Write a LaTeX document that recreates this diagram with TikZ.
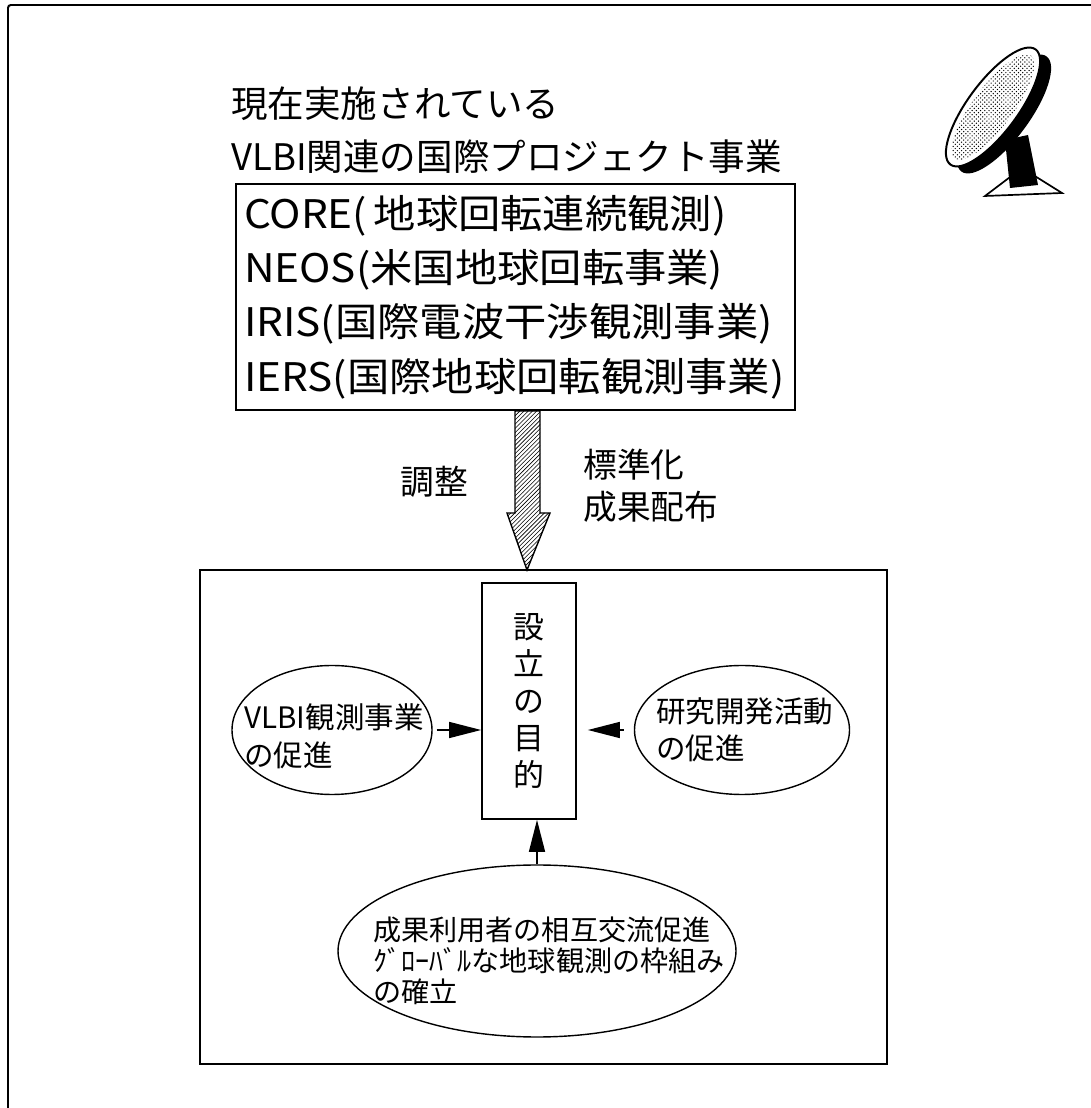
\documentclass[tikz,border=0pt]{standalone}
\usepackage{fontspec}
\setmainfont{Noto Sans CJK JP}
\newfontfamily\widefont{Noto Sans CJK JP}[FakeStretch=1.075]
\usepackage{tikz}
\usetikzlibrary{positioning,arrows.meta,shapes.geometric,calc,patterns}
\tikzset{
  title text/.style={
    anchor=west,
    align=left,
    inner sep=0pt,
    font=\fontsize{26}{38}\selectfont
  },
  project list/.style={
    draw,
    line width=1.2pt,
    align=left,
    inner xsep=0.2cm,
    text width=13.575cm,
    minimum height=5.65cm,
    font=\widefont\fontsize{28}{38.6}\selectfont
  },
  side note/.style={
    align=left,
    inner sep=0pt,
    font=\fontsize{24}{30}\selectfont
  },
  aim box/.style={
    draw,
    line width=1.2pt,
    minimum width=2.35cm,
    minimum height=5.9cm,
    align=center,
    font=\fontsize{22}{26.3}\selectfont
  },
  aim oval/.style={
    ellipse,
    draw,
    line width=1pt
  },
  oval text/.style={
    align=left,
    inner sep=0pt,
    font=\fontsize{21}{26.5}\selectfont
  },
  push arrow/.style={
    -{Triangle[length=0.8cm,width=0.4cm]},
    line width=1pt
  }
}

\begin{document}
\begin{tikzpicture}
  \useasboundingbox (0,0) rectangle (27.275,27.7);

  % Page frame (only left and top edges show)
  \draw[line width=1.4pt, rounded corners=2pt] (0.2,0) -- (0.2,27.575) -- (27.275,27.575);

  % Heading
  \node[title text] (head) at (5.775,24.45) {現在実施されている\\VLBI関連の国際プロジェクト事業};

  % Running projects
  \node[project list] (list) at (12.8875,20.275) {%
    CORE(\,地球回転連続観測)\\
    NEOS(米国地球回転事業)\\
    IRIS(国際電波干渉観測事業)\\
    IERS(国際地球回転観測事業)};

  % Purpose block
  \node[draw, line width=1.2pt, minimum width=17.175cm, minimum height=12.35cm] (goal) at (13.5875,7.275) {};
  \node[aim box] (aim) at (13.225,10.175) {設\\立\\の\\目\\的};

  % Hatched arrow from the list down to the purpose block
  \coordinate (tip) at (13.175,13.45);
  \coordinate (tail) at (list.south -| tip);
  \draw[line width=1pt, pattern=north east lines]
    ($(tail)+(-0.3,0)$) -- ($(tail)+(0.325,0)$) -- ($(tip)+(0.325,1.425)$)
    -- ($(tip)+(0.575,1.425)$) -- (tip) -- ($(tip)+(-0.5,1.425)$)
    -- ($(tip)+(-0.3,1.425)$) -- cycle;
  \node[side note] (coord) at (10.85,15.65) {調整};
  \node[side note, anchor=west] (std) at (14.575,15.55) {標準化\\成果配布};

  % Three aims feeding the purpose
  \node[aim oval, minimum width=5cm, minimum height=3.225cm] (obs) at (8.3,9.45) {};
  \node[oval text] at ($(obs)+(0.05,-0.16)$) {VLBI観測事業\\の促進};
  \node[aim oval, minimum width=5.375cm, minimum height=3.225cm] (dev) at (18.55,9.45) {};
  \node[oval text] at ($(dev)+(0.07,0)$) {研究開発活動\\の促進};
  \node[aim oval, minimum width=9.95cm, minimum height=4.3cm] (use) at (13.425,3.925) {};
  \node[oval text, font=\fontsize{20}{22}\selectfont] at ($(use)+(0.3,-0.25)$)
    {成果利用者の相互交流促進\\ｸﾞﾛｰﾊﾞﾙな地球観測の枠組み\\の確立};

  \draw[push arrow] ([xshift=0.1cm]obs.east) -- (obs.east -| aim.west);
  \draw[push arrow] ([xshift=-0.25cm]dev.west) -- ($(dev.west -| aim.east)+(0.275,0)$);
  \draw[push arrow] (use.north) -- (use.north |- aim.south);

  % Radio telescope sketch
  \fill[black, line width=1.2pt] (25.125,24.2) -- (25.7,24.325) -- (25.95,23.075) -- (25.25,23.0) -- cycle;
  \draw[line width=1.2pt] (24.625,22.8) -- (25.55,23.5) -- (26.55,22.875) -- cycle;
  \fill[black, rotate around={53.5:(25.1,24.85)}] (25.1,24.85) ellipse [x radius=1.79, y radius=0.625];
  \draw[line width=1.4pt, fill=white, rotate around={53.5:(24.825,25.025)}] (24.825,25.025) ellipse [x radius=1.79, y radius=0.625];
  \fill[pattern=crosshatch dots, rotate around={53.5:(24.825,25.025)}] (24.825,25.025) ellipse [x radius=1.6, y radius=0.5];
\end{tikzpicture}
\end{document}
